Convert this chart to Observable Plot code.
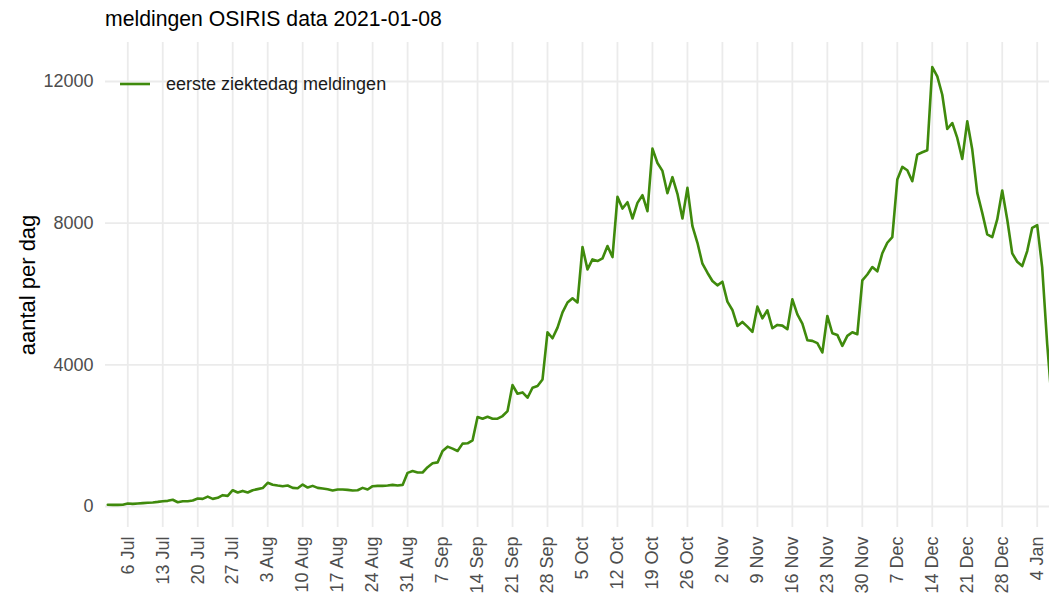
<!DOCTYPE html>
<html>
<head>
<meta charset="utf-8">
<script src="https://cdn.jsdelivr.net/npm/d3@7"></script>
<script src="https://cdn.jsdelivr.net/npm/@observablehq/plot@0.6"></script>
<style>
  body { margin: 0; background: #fff; }
  #wrap { position: relative; width: 1049px; height: 599px; font-family: "Liberation Sans", Arial, sans-serif; overflow: hidden; }
  #wrap svg.plot { display: block; position: absolute; left: 0; top: 0; }
  #title { position: absolute; left: 105px; top: 7px; font-size: 21.2px; line-height: 24px; color: #000; white-space: nowrap; }
  #legend { position: absolute; left: 119px; top: 73px; height: 22px; display: flex; align-items: center; font-size: 18px; color: #1a1a1a; white-space: nowrap; }
</style>
</head>
<body>
<div id="wrap">
  <div id="title">meldingen OSIRIS data 2021-01-08</div>
  <div id="legend"><svg width="32" height="20"><line x1="1" x2="31" y1="10" y2="10" stroke="#3f8a0c" stroke-width="2.6"/></svg><span style="margin-left:15px">eerste ziektedag meldingen</span></div>
</div>
<script>
// ---- data ----
const firstDate = "2020-07-02";
const julValues = [50,45,45,50,85,75,85,95,105,115,130,150,160,190,120,150,150,170,225,215,280,215,245,320,300,460,395,440,395,460]; // Jul 2..31
const augValues = [490,520,670,615,592,573,592,526,516,620,535,582,526,507,488,451,479,479,470,451,460,526,479,573,582,582,592,610,592,610,950]; // Aug 1..31
const sepValues = [1000,958,960,1110,1220,1245,1570,1690,1634,1568,1775,1784,1869,2526,2479,2535,2479,2479,2554,2695,3428,3184,3221,3071,3353,3400,3588,4921,4750,5050]; // Sep 1..30
const octValues = [5480,5760,5880,5760,7324,6695,6977,6930,7005,7353,7043,8742,8413,8592,8132,8573,8789,8338,10104,9700,9475,8845,9300,8830,8132,8996,7916,7446,6855,6601,6366]; // Oct 1..31
const novValues = [6244,6347,5784,5549,5098,5211,5080,4930,5643,5314,5540,5033,5127,5108,5005,5850,5427,5164,4695,4676,4611,4348,5380,4892,4845,4535,4817,4920,4864,6385]; // Nov 1..30
const decValues = [6550,6760,6640,7150,7447,7607,9231,9588,9494,9184,9936,10002,10058,12406,12143,11626,10659,10828,10406,9814,10875,10077,8855,8291,7681,7607,8104,8921,8104,7146,6911]; // Dec 1..31
const janValues = [6789,7212,7869,7944,6742,4582,2800]; // Jan 1..7

const xTickDates = ["2020-07-06","2020-07-13","2020-07-20","2020-07-27","2020-08-03","2020-08-10","2020-08-17","2020-08-24","2020-08-31","2020-09-07","2020-09-14","2020-09-21","2020-09-28","2020-10-05","2020-10-12","2020-10-19","2020-10-26","2020-11-02","2020-11-09","2020-11-16","2020-11-23","2020-11-30","2020-12-07","2020-12-14","2020-12-21","2020-12-28","2021-01-04"];
const yTicks = [0, 4000, 8000, 12000];
const seriesName = "eerste ziektedag meldingen";
const yLabel = "aantal per dag";

// ---- build table ----
const allValues = [].concat(julValues, augValues, sepValues, octValues, novValues, decValues, janValues);
const start = new Date(firstDate + "T00:00:00Z");
const data = allValues.map((v, i) => ({date: d3.utcDay.offset(start, i), value: v}));
const ticks = xTickDates.map(s => new Date(s + "T00:00:00Z"));

const lineColor = "#3f8a0c";
const gridColor = "#ebebeb";

const chart = Plot.plot({
  width: 1049,
  height: 599,
  marginLeft: 105,
  marginRight: 0,
  marginTop: 42,
  marginBottom: 72,
  style: {fontFamily: "'Liberation Sans', Arial, sans-serif", fontSize: "18px", color: "#4d4d4d", background: "transparent", overflow: "visible"},
  x: {type: "utc", domain: [new Date("2020-07-01T13:00:00Z"), new Date("2021-01-06T11:00:00Z")]},
  y: {domain: [-593, 13101]},
  marks: [
    Plot.ruleX(ticks, {stroke: gridColor, strokeWidth: 1.8}),
    Plot.ruleY(yTicks, {stroke: gridColor, strokeWidth: 1.8}),
    Plot.line(data, {x: "date", y: "value", stroke: lineColor, strokeWidth: 2.6, clip: true}),
    Plot.axisX({ticks: ticks, tickFormat: d3.utcFormat("%-d %b"), tickRotate: -90, tickSize: 0, tickPadding: 9, label: null, fill: "#4d4d4d"}),
    Plot.axisY({ticks: yTicks, tickFormat: d => String(d), tickSize: 0, tickPadding: 12, label: null, fill: "#4d4d4d"}),
    Plot.text([yLabel], {text: d => d, frameAnchor: "left", textAnchor: "middle", rotate: -90, dx: -78, fontSize: 22, fill: "#000"})
  ]
});
chart.classList.add("plot");
const wrap = document.getElementById("wrap");
wrap.insertBefore(chart, wrap.firstChild);
document.querySelector("#legend span").textContent = seriesName;
</script>
</body>
</html>
